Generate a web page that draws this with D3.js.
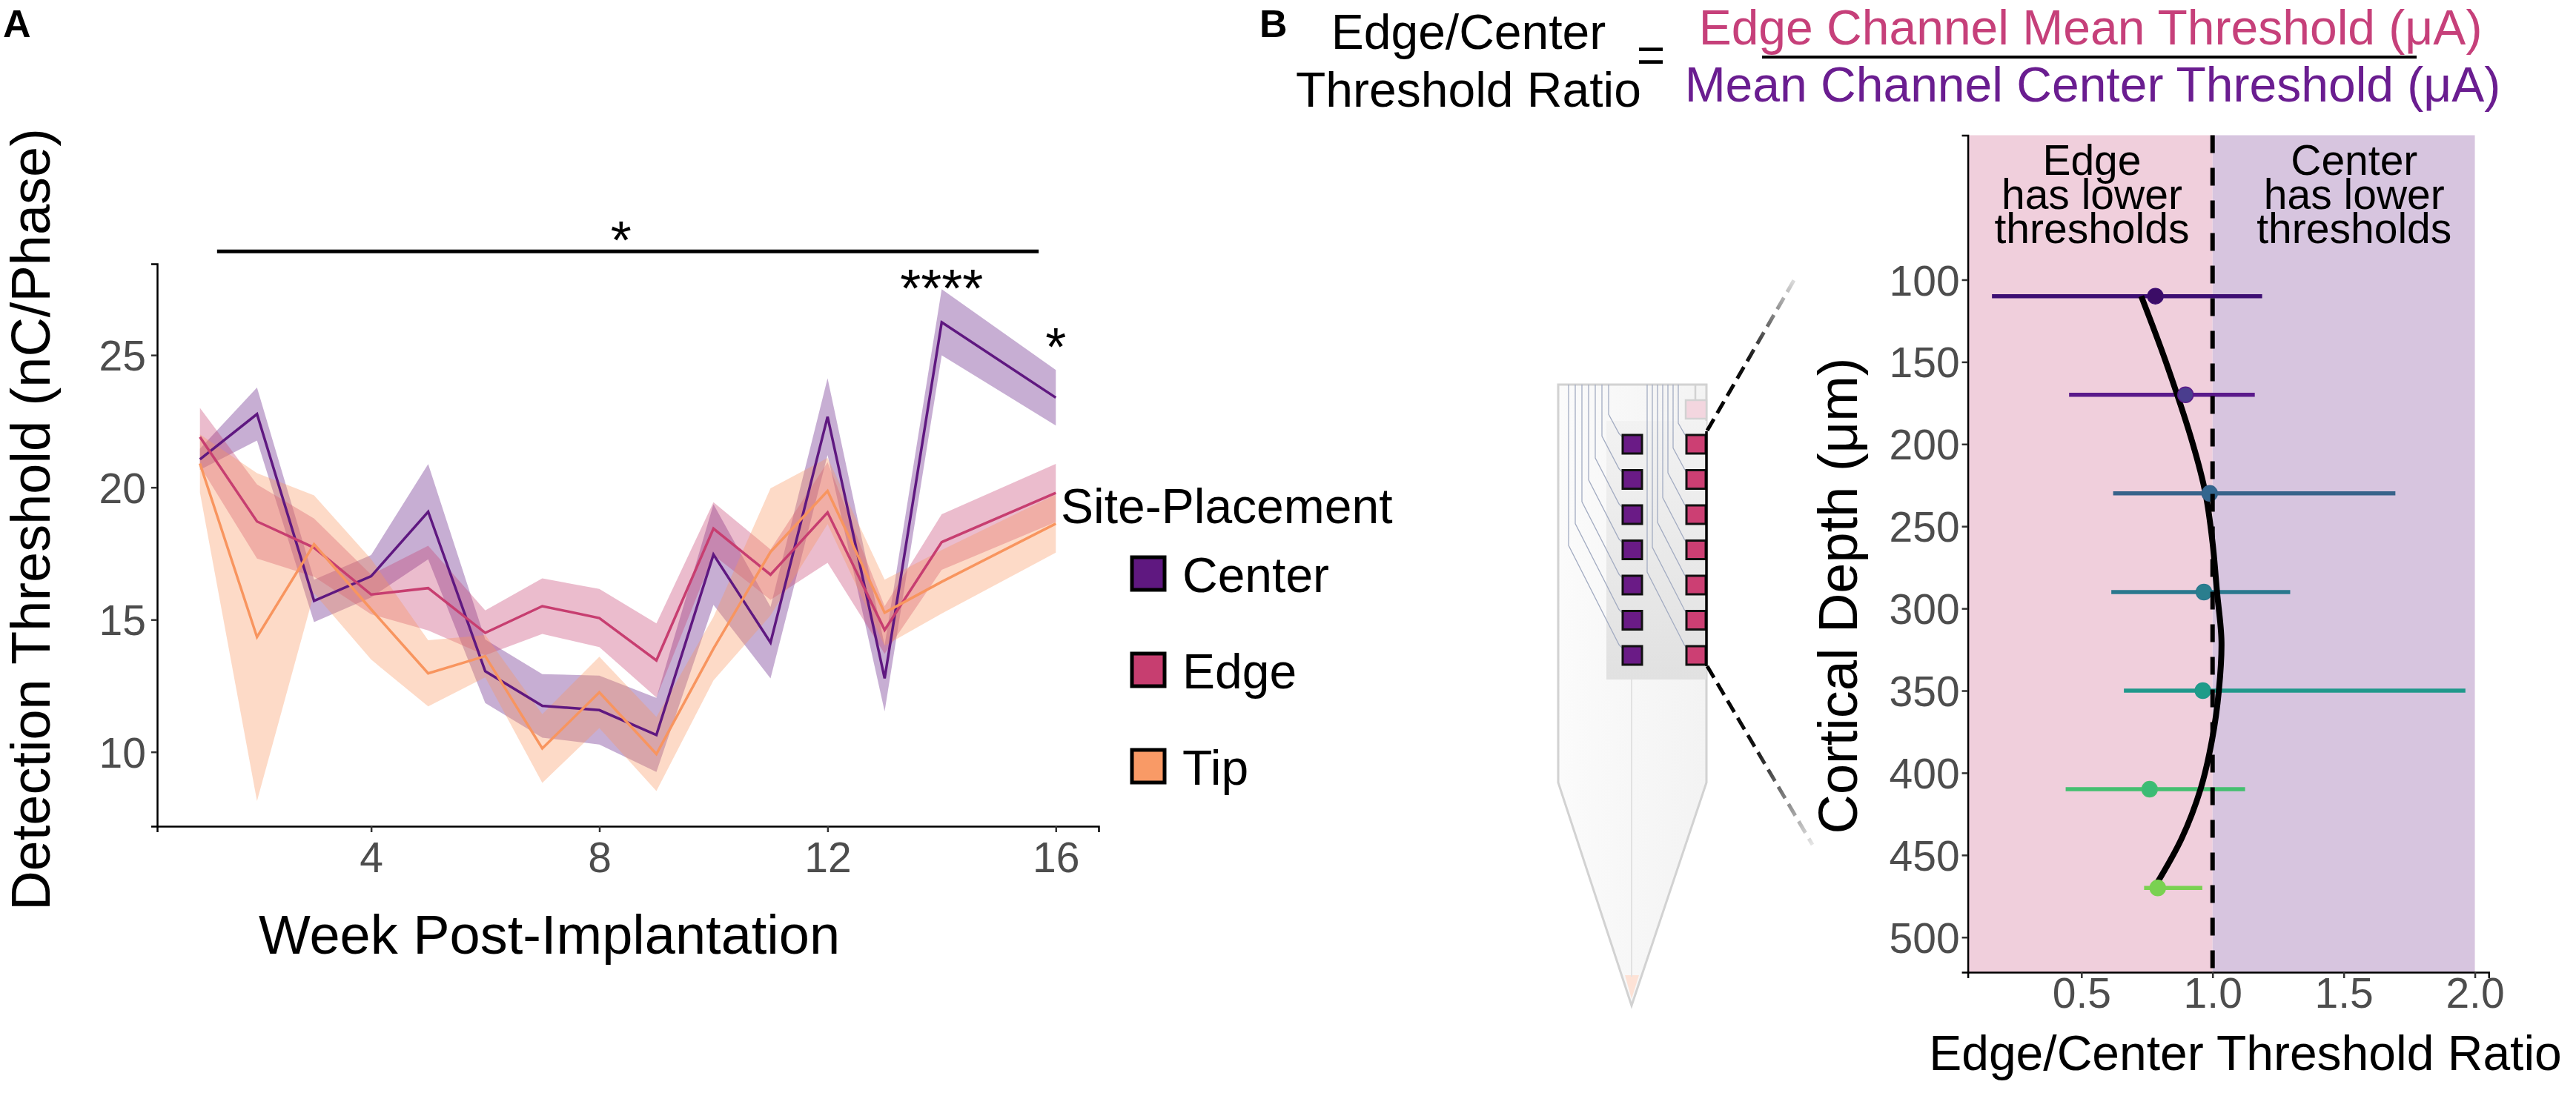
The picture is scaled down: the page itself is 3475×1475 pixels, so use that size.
<!DOCTYPE html>
<html>
<head>
<meta charset="utf-8">
<script src="https://cdn.jsdelivr.net/npm/d3@7"></script>
<style>
  body { margin: 0; background: #fff; }
  svg { display: block; }
  text { font-family: "Liberation Sans", Arial, sans-serif; }
</style>
</head>
<body>
<div id="chart"></div>
<script>

// ---- panel A: detection threshold over time (mean +/- SE) ----
var weeks = [1, 2, 3, 4, 5, 6, 7, 8, 9, 10, 11, 12, 13, 14, 16];
var centerMean = [21.06, 22.77, 15.71, 16.64, 19.08, 13.05, 11.74, 11.58, 10.64, 17.46, 14.13, 22.67, 12.78, 26.24, 23.39];
var centerSE   = [0.4, 1.0, 0.8, 0.8, 1.8, 1.2, 1.2, 1.3, 1.4, 1.9, 1.35, 1.45, 1.25, 1.25, 1.05];
var edgeMean   = [21.9, 18.71, 17.72, 15.95, 16.19, 14.5, 15.51, 15.06, 13.46, 18.44, 16.7, 19.05, 14.61, 17.93, 19.79];
var edgeSE     = [1.1, 1.4, 1.1, 0.75, 1.6, 0.85, 1.05, 1.1, 1.4, 1.0, 0.95, 1.9, 0.9, 1.05, 1.1];
var tipMean    = [20.9, 14.34, 17.85, 15.39, 12.97, 13.62, 10.13, 12.25, 9.92, 13.9, 17.56, 19.86, 15.26, 16.43, 18.63];
var tipSE      = [1.1, 6.2, 1.85, 1.9, 1.25, 0.8, 1.3, 1.35, 1.4, 1.2, 2.4, 1.25, 1.25, 1.2, 1.1];
var groups = ["Center", "Edge", "Tip"];
var xTicksA = [4, 8, 12, 16];
var yTicksA = [10, 15, 20, 25];

// significance marks
var sigBar = [1.3, 15.7];
var sigBarY = 28.92;
var sigLabels = ["*", "****", "*"];
var sigWeek = [8.38, 14.0, 16.0];
var sigY = [29.79, 27.97, 25.76];

// ---- panel B: edge/center ratio by depth ----
var depths = [110, 170, 230, 290, 350, 410, 470];
var ratioMean = [0.782, 0.897, 0.989, 0.967, 0.963, 0.760, 0.791];
var ratioLow  = [0.159, 0.453, 0.621, 0.614, 0.662, 0.440, 0.739];
var ratioHigh = [1.189, 1.161, 1.697, 1.296, 1.964, 1.124, 0.961];
// fitted curve
var fitDepth = [110, 150, 200, 230, 260, 290, 320, 350, 380, 410, 440, 468];
var fitRatio = [0.728, 0.822, 0.925, 0.973, 1.000, 1.017, 1.034, 1.024, 0.998, 0.954, 0.882, 0.785];
var xTicksB = [0.5, 1.0, 1.5, 2.0];
var yTicksB = [100, 150, 200, 250, 300, 350, 400, 450, 500];

var colorsA = {Center: "#5f1880", Edge: "#c73e70", Tip: "#f8955f"};
var keyFill = {Center: "#5f1880", Edge: "#c73e70", Tip: "#f99a66"};
var errColors = ["#3d0e73", "#5a1a8b", "#37638a", "#2a788e", "#1f988b", "#44bf70", "#7ad151"];
var ptColors  = ["#3b0c66", "#4a3d8e", "#33668f", "#2a7e8e", "#1f9c89", "#3bbb75", "#7ad151"];

var svg = d3.select("#chart").append("svg")
    .attr("width", 3475)
    .attr("height", 1475);

var FONT_TICK = 57;

// ================= PANEL A =================
var xA = d3.scaleLinear().domain([0.25, 16.75]).range([212, 1482]);
var yA = d3.scaleLinear().domain([7.19, 28.45]).range([1115, 356]);

var seriesA = [
    {name: "Center", mean: centerMean, se: centerSE},
    {name: "Edge", mean: edgeMean, se: edgeSE},
    {name: "Tip", mean: tipMean, se: tipSE}
].map(s => ({
    name: s.name,
    pts: weeks.map((w, i) => ({w: w, m: s.mean[i], lo: s.mean[i] - s.se[i], hi: s.mean[i] + s.se[i]}))
}));

var area = d3.area()
    .x(d => xA(d.w))
    .y0(d => yA(d.lo))
    .y1(d => yA(d.hi));

var lineA = d3.line()
    .x(d => xA(d.w))
    .y(d => yA(d.m));

var gA = svg.append("g");

// ribbons first, then the lines
seriesA.forEach(s =>
    gA.append("path")
    .datum(s.pts)
    .attr("d", area)
    .attr("fill", colorsA[s.name])
    .attr("fill-opacity", 0.35)
);
seriesA.forEach(s =>
    gA.append("path")
    .datum(s.pts)
    .attr("d", lineA)
    .attr("fill", "none")
    .attr("stroke", colorsA[s.name])
    .attr("stroke-width", 3.5)
);

// axes
var axYA = gA.append("g")
    .attr("transform", "translate(" + xA.range()[0] + ",0)")
    .call(d3.axisLeft(yA).tickValues(yTicksA).tickSizeOuter(0).tickSize(8));
var axXA = gA.append("g")
    .attr("transform", "translate(0," + yA.range()[0] + ")")
    .call(d3.axisBottom(xA).tickValues(xTicksA).tickSizeOuter(0).tickSize(8));

function styleAxis(ax) {
    ax.select(".domain").attr("stroke", "#000").attr("stroke-width", 2.5);
    ax.selectAll(".tick line").attr("stroke", "#333").attr("stroke-width", 2.5);
    ax.selectAll(".tick text")
        .attr("font-size", FONT_TICK)
        .attr("fill", "#4d4d4d")
        .attr("font-family", "Liberation Sans, Arial, sans-serif");
}
styleAxis(axYA);
styleAxis(axXA);
axYA.selectAll(".tick text").attr("x", -15).attr("dy", "0.36em");
axXA.selectAll(".tick text").attr("y", 62).attr("dy", null);

// axis titles
gA.append("text")
    .attr("transform", "translate(67,701) rotate(-90)")
    .attr("text-anchor", "middle")
    .attr("font-size", 74)
    .text("Detection Threshold (nC/Phase)");
gA.append("text")
    .attr("x", 741).attr("y", 1287)
    .attr("text-anchor", "middle")
    .attr("font-size", 74)
    .text("Week Post-Implantation");

// significance bar and stars
gA.append("line")
    .attr("x1", xA(sigBar[0])).attr("x2", xA(sigBar[1]))
    .attr("y1", yA(sigBarY)).attr("y2", yA(sigBarY))
    .attr("stroke", "#000").attr("stroke-width", 5);
sigLabels.forEach((lab, i) =>
    gA.append("text")
    .attr("x", xA(sigWeek[i]))
    .attr("y", yA(sigY[i]) + 0.57 * 72)
    .attr("text-anchor", "middle")
    .attr("font-size", 72)
    .text(lab)
);

// legend
gA.append("text")
    .attr("x", 1431).attr("y", 706)
    .attr("font-size", 66)
    .text("Site-Placement");
groups.forEach((g, i) => {
    let cy = 774 + i * 130;
    gA.append("rect")
        .attr("x", 1527).attr("y", cy - 22)
        .attr("width", 44).attr("height", 44)
        .attr("fill", keyFill[g])
        .attr("stroke", "#000").attr("stroke-width", 5);
    gA.append("text")
        .attr("x", 1595).attr("y", cy + 25)
        .attr("font-size", 66)
        .text(g);
});

// panel labels
svg.append("text").attr("x", 4).attr("y", 50)
    .attr("font-size", 52).attr("font-weight", "bold").text("A");
svg.append("text").attr("x", 1699).attr("y", 50)
    .attr("font-size", 52).attr("font-weight", "bold").text("B");

// ================= PANEL B formula =================
var gF = svg.append("g");
gF.append("text").attr("x", 1981).attr("y", 66)
    .attr("text-anchor", "middle").attr("font-size", 66).text("Edge/Center");
gF.append("text").attr("x", 1981).attr("y", 144)
    .attr("text-anchor", "middle").attr("font-size", 66).text("Threshold Ratio");
gF.append("text").attr("x", 2227).attr("y", 97)
    .attr("text-anchor", "middle").attr("font-size", 66).text("=");
gF.append("text").attr("x", 2820).attr("y", 60)
    .attr("text-anchor", "middle").attr("font-size", 66).attr("fill", "#c6407a")
    .text("Edge Channel Mean Threshold (\u03bcA)");
gF.append("line").attr("x1", 2377).attr("x2", 3260).attr("y1", 77).attr("y2", 77)
    .attr("stroke", "#000").attr("stroke-width", 4);
gF.append("text").attr("x", 2823).attr("y", 137)
    .attr("text-anchor", "middle").attr("font-size", 66).attr("fill", "#6a1d90")
    .text("Mean Channel Center Threshold (\u03bcA)");

// ================= probe illustration =================
var gP = svg.append("g");
var defs = svg.append("defs");

var shankGrad = defs.append("linearGradient").attr("id", "shankGrad")
    .attr("x1", 0).attr("y1", 0).attr("x2", 1).attr("y2", 0);
shankGrad.append("stop").attr("offset", "0%").attr("stop-color", "#fbfbfb");
shankGrad.append("stop").attr("offset", "100%").attr("stop-color", "#f3f3f3");

var zoneGrad = defs.append("linearGradient").attr("id", "zoneGrad")
    .attr("x1", 0).attr("y1", 0).attr("x2", 0).attr("y2", 1);
zoneGrad.append("stop").attr("offset", "0%").attr("stop-color", "#f2f2f2");
zoneGrad.append("stop").attr("offset", "100%").attr("stop-color", "#e1e1e1");

gP.append("path")
    .attr("d", "M2102,519 L2302,519 L2302,1056 L2201,1357 L2102,1056 Z")
    .attr("fill", "url(#shankGrad)")
    .attr("stroke", "#d2d2d2").attr("stroke-width", 3);
gP.append("path")
    .attr("d", "M2192,1316 L2211,1316 L2201,1348 Z")
    .attr("fill", "#fde2d6");
gP.append("line")
    .attr("x1", 2201).attr("x2", 2201).attr("y1", 917).attr("y2", 1318)
    .attr("stroke", "#e2e2e2").attr("stroke-width", 2);
gP.append("rect")
    .attr("x", 2167).attr("y", 568).attr("width", 135).attr("height", 349)
    .attr("fill", "url(#zoneGrad)");

var padTop = d3.range(7).map(i => 587 + i * 47.5);

// traces to the pads
padTop.forEach((t, k) => {
    let x0 = 2170 - k * 9, dx = 2184 - x0;
    gP.append("path")
        .attr("d", "M" + x0 + ",519 V" + (t - 2 * dx) + " L2184," + (t - 2) + " L2190," + (t + 4))
        .attr("fill", "none").attr("stroke", "#a3acc2").attr("stroke-width", 1.3);
    let x1 = 2264 - k * 7, dx1 = 2272 - x1;
    gP.append("path")
        .attr("d", "M" + x1 + ",519 V" + (t - 2 * dx1) + " L2272," + (t - 2) + " L2276," + (t + 4))
        .attr("fill", "none").attr("stroke", "#a3acc2").attr("stroke-width", 1.3);
});

padTop.forEach(t => {
    gP.append("rect").attr("x", 2189).attr("y", t).attr("width", 26).attr("height", 25)
        .attr("fill", "#6a1b86").attr("stroke", "#111").attr("stroke-width", 3);
    gP.append("rect").attr("x", 2275).attr("y", t).attr("width", 26).attr("height", 25)
        .attr("fill", "#cc3f73").attr("stroke", "#111").attr("stroke-width", 3);
});
gP.append("line").attr("x1", 2287).attr("x2", 2287).attr("y1", 519).attr("y2", 540)
    .attr("stroke", "#d2d2d2").attr("stroke-width", 2.5);
gP.append("rect").attr("x", 2274).attr("y", 540).attr("width", 28).attr("height", 25)
    .attr("fill", "#f3d6df").attr("stroke", "#d2d2d2").attr("stroke-width", 2.5);
gP.append("line").attr("x1", 2302).attr("x2", 2302).attr("y1", 582).attr("y2", 899)
    .attr("stroke", "#000").attr("stroke-width", 3.5);

// dashed zoom lines that fade out
[[2303, 581, 2423, 373, "fadeUp"], [2303, 899, 2445, 1140, "fadeDown"]].forEach(l => {
    let gr = defs.append("linearGradient").attr("id", l[4])
        .attr("gradientUnits", "userSpaceOnUse")
        .attr("x1", l[0]).attr("y1", l[1]).attr("x2", l[2]).attr("y2", l[3]);
    gr.append("stop").attr("offset", "0%").attr("stop-color", "#000");
    gr.append("stop").attr("offset", "45%").attr("stop-color", "#111");
    gr.append("stop").attr("offset", "100%").attr("stop-color", "#e6e6e6");
    gP.append("line")
        .attr("x1", l[0]).attr("y1", l[1]).attr("x2", l[2]).attr("y2", l[3])
        .attr("stroke", "url(#" + l[4] + ")").attr("stroke-width", 5)
        .attr("stroke-dasharray", "18,9");
});

// ================= PANEL B plot =================
var xB = d3.scaleLinear().domain([0.067, 2.053]).range([2654.6, 3357.3]);
var yB = d3.scaleLinear().domain([12.1, 521.3]).range([182.5, 1312]);
var gB = svg.append("g");

gB.append("rect")
    .attr("x", xB.range()[0]).attr("y", yB.range()[0])
    .attr("width", xB(1) - xB.range()[0]).attr("height", yB.range()[1] - yB.range()[0])
    .attr("fill", "#f0cfdc");
gB.append("rect")
    .attr("x", xB(1)).attr("y", yB.range()[0])
    .attr("width", xB(2) - xB(1)).attr("height", yB.range()[1] - yB.range()[0])
    .attr("fill", "#d7c5df");

// quadrant captions, three tight lines each
[[0.54, "Edge"], [1.54, "Center"]].forEach(c => {
    let t = gB.append("text")
        .attr("x", xB(c[0]))
        .attr("y", 236)
        .attr("text-anchor", "middle")
        .attr("font-size", 57);
    [c[1], "has lower", "thresholds"].forEach((line, j) =>
        t.append("tspan")
        .attr("x", xB(c[0]))
        .attr("dy", j == 0 ? 0 : 46)
        .text(line)
    );
});

// error bars
depths.forEach((d, i) =>
    gB.append("line")
    .attr("x1", xB(ratioLow[i])).attr("x2", xB(ratioHigh[i]))
    .attr("y1", yB(d)).attr("y2", yB(d))
    .attr("stroke", errColors[i]).attr("stroke-width", 5.5)
);

// fitted curve
var fitPts = fitDepth.map((d, i) => ({d: d, r: fitRatio[i]}));
gB.append("path")
    .datum(fitPts)
    .attr("d", d3.line().x(p => xB(p.r)).y(p => yB(p.d)).curve(d3.curveCatmullRom))
    .attr("fill", "none")
    .attr("stroke", "#000")
    .attr("stroke-width", 8);

// points
depths.forEach((d, i) =>
    gB.append("circle")
    .attr("cx", xB(ratioMean[i])).attr("cy", yB(d))
    .attr("r", 10.5)
    .attr("fill", ptColors[i])
    .attr("stroke", errColors[i]).attr("stroke-width", 1.5)
);

// reference line at ratio 1
gB.append("line")
    .attr("x1", xB(1)).attr("x2", xB(1))
    .attr("y1", yB.range()[0]).attr("y2", yB.range()[1])
    .attr("stroke", "#000").attr("stroke-width", 6)
    .attr("stroke-dasharray", "24,20");

var axYB = gB.append("g")
    .attr("transform", "translate(" + xB.range()[0] + ",0)")
    .call(d3.axisLeft(yB).tickValues(yTicksB).tickSizeOuter(0).tickSize(8));
var axXB = gB.append("g")
    .attr("transform", "translate(0," + yB.range()[1] + ")")
    .call(d3.axisBottom(xB).tickValues(xTicksB).tickFormat(d3.format(".1f")).tickSizeOuter(0).tickSize(8));
styleAxis(axYB);
styleAxis(axXB);
axYB.selectAll(".tick text").attr("x", -11).attr("dy", "0.36em");
axXB.selectAll(".tick text").attr("y", 48).attr("dy", null);

gB.append("text")
    .attr("transform", "translate(2505,804) rotate(-90)")
    .attr("text-anchor", "middle")
    .attr("font-size", 74)
    .text("Cortical Depth (\u03bcm)");
gB.append("text")
    .attr("x", 3029).attr("y", 1444)
    .attr("text-anchor", "middle")
    .attr("font-size", 66)
    .text("Edge/Center Threshold Ratio");

</script>
</body>
</html>
